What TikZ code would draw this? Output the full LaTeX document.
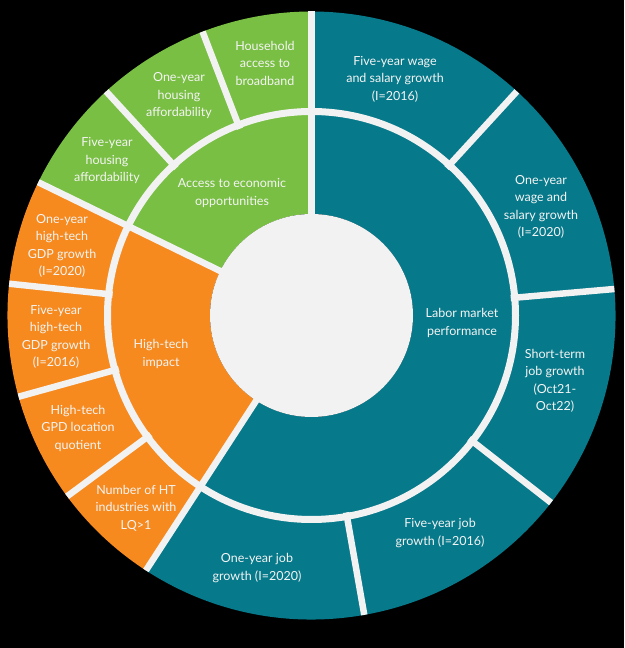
\documentclass[tikz,border=0pt]{standalone}
\usepackage{fontspec}
\setmainfont{Lato}
\definecolor{cgreen}{HTML}{79BF43}
\definecolor{corange}{HTML}{F68A1F}
\definecolor{cteal}{HTML}{06798A}
\definecolor{cgap}{HTML}{F2F2F2}
\definecolor{ctext}{HTML}{F4F4F4}
\tikzset{
  lbl/.style={text=ctext, align=center, inner sep=0pt, font=\fontsize{12.5}{17.5}\selectfont},
  gapline/.style={draw=cgap, line width=6.5pt},
}
\newcommand\ringsector[3]{% color, start, end
  \fill[#1] (#2:101.5pt) -- (#2:304pt) arc[start angle=#2, end angle=#3, radius=304pt] -- (#3:101.5pt) arc[start angle=#3, end angle=#2, radius=101.5pt] -- cycle;}
\begin{document}
\begin{tikzpicture}[x=1pt,y=1pt]
\useasboundingbox (0,0) rectangle (624,648);
\fill[black] (0,0) rectangle (624,648);
\begin{scope}[shift={(311.5,332.5)}]
  \coordinate (C) at (0,0);
  \ringsector{cgreen}{90}{154}
  \ringsector{corange}{154}{237}
  \ringsector{cteal}{237}{450}
  % hole and ring gap
  \fill[cgap] (C) circle[radius=101.5pt];
  \draw[cgap, line width=7pt] (C) circle[radius=204pt];
  % main radial gaps (both rings)
  \foreach \a in {90,154,237}
    \draw[gapline] (\a:95pt) -- (\a:304pt);
  % outer ring radial gaps
  \foreach \a in {111,132.5,174,195.5,216.5,280,322,5,47.5}
    \draw[gapline] (\a:200pt) -- (\a:304pt);
\end{scope}
% labels (image coords converted: y = 648 - y_img)
\node[lbl] (hh)  at (265,585) {Household\\access to\\broadband};
\node[lbl] (oyh) at (179,552) {One-year\\housing\\affordability};
\node[lbl] (fyh) at (107,487) {Five-year\\housing\\affordability};
\node[lbl] (acc) at (232,455) {Access to economic\\opportunities};
\node[lbl] (oyg) at (62,402) {One-year\\high-tech\\GDP growth\\(I=2020)};
\node[lbl] (fyg) at (56,311) {Five-year\\high-tech\\GDP growth\\(I=2016)};
\node[lbl] (hti) at (161,294) {High-tech\\impact};
\node[lbl] (lq)  at (78,220) {High-tech\\GPD location\\quotient};
\node[lbl] (nht) at (136,140) {Number of HT\\industries with\\LQ>1};
\node[lbl] (oyj) at (257,80) {One-year job\\growth (I=2020)};
\node[lbl] (fyj) at (440,115) {Five-year job\\growth (I=2016)};
\node[lbl] (stj) at (555,267) {Short-term\\job growth\\(Oct21-\\Oct22)};
\node[lbl] (lmp) at (462,325) {Labor market\\performance};
\node[lbl] (oyw) at (541,441) {One-year\\wage and\\salary growth\\(I=2020)};
\node[lbl] (fyw) at (395,569) {Five-year wage\\and salary growth\\(I=2016)};
\end{tikzpicture}
\end{document}
